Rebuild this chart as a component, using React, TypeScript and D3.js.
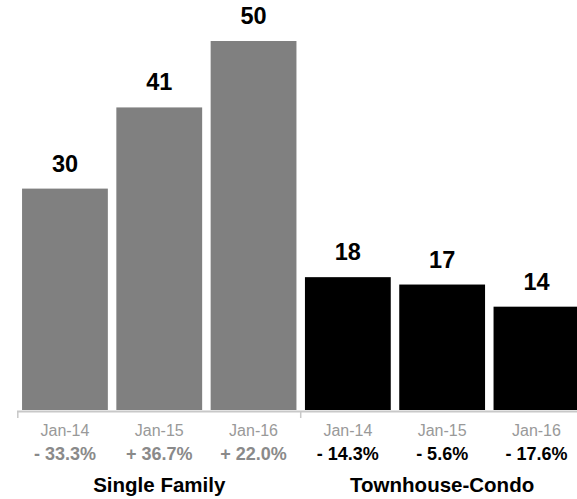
import React from "react";
import * as d3 from "d3";

const groups = ["Single Family", "Townhouse-Condo"];
const months = ["Jan-14", "Jan-15", "Jan-16"];
const singleFamily = [30, 41, 50];
const townhouse = [18, 17, 14];
const sfChange = ["- 33.3%", "+ 36.7%", "+ 22.0%"];
const thChange = ["- 14.3%", "- 5.6%", "- 17.6%"];

const W = 577;
const H = 499;
const baseline = 410;
const font = "Liberation Sans, Arial, Helvetica, sans-serif";

export default function App() {
  const rows = [
    ...months.map((m, i) => ({ key: `sf-${i}`, group: 0, month: m, value: singleFamily[i], change: sfChange[i] })),
    ...months.map((m, i) => ({ key: `th-${i}`, group: 1, month: m, value: townhouse[i], change: thChange[i] })),
  ];
  const x = d3
    .scaleBand<string>()
    .domain(rows.map((r) => r.key))
    .range([17.8, 583.6])
    .paddingInner(0.09)
    .paddingOuter(0.045);
  const y = d3.scaleLinear().domain([0, 50]).range([baseline, 41]);
  const step = x.step();
  const groupStart = (g: number) => 17.8 + g * 3 * step;
  const colors = ["#808080", "#000000"];
  const changeColors = ["#8a8a8a", "#000000"];

  return (
    <div style={{ position: "absolute", left: 0, top: 0 }}>
      <svg width={W} height={H} style={{ display: "block" }} fontFamily={font}>
        <rect x={0} y={0} width={W} height={H} fill="#ffffff" />
        {rows.map((r) => (
          <g key={r.key}>
            <rect
              x={x(r.key)!}
              y={y(r.value)}
              width={x.bandwidth()}
              height={baseline - y(r.value)}
              fill={colors[r.group]}
            />
            <text
              x={x(r.key)! + x.bandwidth() / 2}
              y={y(r.value) - 17}
              textAnchor="middle"
              fontSize={23.5}
              fontWeight="bold"
              fill="#000"
            >
              {r.value}
            </text>
            <text
              x={x(r.key)! + x.bandwidth() / 2}
              y={435.5}
              textAnchor="middle"
              fontSize={16}
              fill="#999999"
            >
              {r.month}
            </text>
            <text
              x={x(r.key)! + x.bandwidth() / 2}
              y={460}
              textAnchor="middle"
              fontSize={18}
              fontWeight="bold"
              fill={changeColors[r.group]}
            >
              {r.change}
            </text>
          </g>
        ))}
        <line x1={17} x2={W} y1={411.5} y2={411.5} stroke="#c8c8c8" strokeWidth={2} />
        {[0, 1, 2].map((g) => (
          <line
            key={g}
            x1={groupStart(g)}
            x2={groupStart(g)}
            y1={411}
            y2={418}
            stroke="#c8c8c8"
            strokeWidth={1.5}
          />
        ))}
        {groups.map((gname, g) => (
          <text
            key={gname}
            x={groupStart(g) + (3 * step) / 2}
            y={491.5}
            textAnchor="middle"
            fontSize={20.5}
            fontWeight="bold"
            fill="#000"
          >
            {gname}
          </text>
        ))}
      </svg>
    </div>
  );
}
